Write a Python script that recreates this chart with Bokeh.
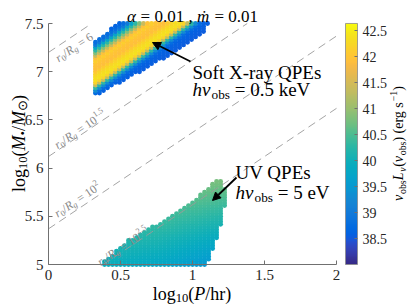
import math
import numpy as np
from bokeh.plotting import figure
from bokeh.models import (ColumnDataSource, LinearColorMapper, FixedTicker, LinearAxis,
                          CustomJSTickFormatter, Label, Arrow, NormalHead, Range1d)
from bokeh.transform import transform
from bokeh.embed import file_html
from bokeh.resources import INLINE

# ---------------- data ----------------
X_TICKS = [0, 0.5, 1, 1.5, 2]
Y_TICKS = [5, 5.5, 6, 6.5, 7, 7.5]
CB_TICKS = [38.5, 39, 39.5, 40, 40.5, 41, 41.5, 42, 42.5]
CB_LOW, CB_HIGH = 38.0, 42.635

# dashed r0/Rg lines: log M = log P + intercept
LINE_RATIO_TXT = ["6", "10^1.5", "10^2", "10^2.5"]
LINE_INTERCEPTS = [7.20, 6.12, 5.37, 4.62]

# grid step of the scanned parameter space
STEP_P = 0.0278
STEP_M = 2.5 / 90

# soft X-ray cloud (upper): edges (log M -> log P)
UP_P0 = 0.326
UP_LEFT_M = [6.76, 7.31, 7.51]
UP_LEFT_P = [0.326, 0.326, 0.49]
UP_RIGHT_M = [6.76, 6.875, 7.06, 7.22, 7.38, 7.51]
UP_RIGHT_P = [0.34, 0.48, 0.71, 0.89, 1.06, 1.12]
# luminance across the band, vs s = logM - logP
UP_S = [6.30, 6.44, 6.47, 6.50, 6.53, 6.57, 6.63, 6.70, 6.76, 6.80, 6.84, 6.88, 6.92, 6.95, 7.00]
UP_L = [38.5, 38.6, 39.0, 40.0, 41.2, 42.4, 42.3, 41.9, 42.0, 42.2, 41.4, 40.6, 39.8, 39.0, 38.6]
# luminance drop toward the lower edge (distance in log M)
UP_EDGE_D = [0.0, 0.03, 0.06]
UP_EDGE_L = [38.7, 40.3, 42.6]

# UV cloud (lower): edges
LOW_P0 = 0.361
LOW_LEFT_M = [4.99, 5.25, 5.44, 5.66, 5.88]
LOW_LEFT_P = [0.361, 0.55, 0.78, 1.01, 1.17]
LOW_RIGHT_M = [4.99, 5.15, 5.38, 5.64, 5.85, 5.88]
LOW_RIGHT_P = [1.10, 1.14, 1.19, 1.23, 1.22, 1.19]
LOW_COL_M = [5.0, 5.45, 5.9]
LOW_COL_P = [0.35, 0.8, 1.25]
LOW_COL_L = [[39.95, 39.75, 39.35],
             [40.50, 40.35, 40.10],
             [41.00, 40.95, 40.80]]

# parula colour map
PARULA64 = [
    (0.2081, 0.1663, 0.5292), (0.2116, 0.1898, 0.5777), (0.2123, 0.2138, 0.6270), (0.2081, 0.2386, 0.6771),
    (0.1959, 0.2645, 0.7279), (0.1707, 0.2919, 0.7792), (0.1253, 0.3242, 0.8303), (0.0591, 0.3598, 0.8683),
    (0.0117, 0.3875, 0.8820), (0.0060, 0.4086, 0.8828), (0.0165, 0.4266, 0.8786), (0.0329, 0.4430, 0.8720),
    (0.0498, 0.4586, 0.8641), (0.0629, 0.4737, 0.8554), (0.0723, 0.4887, 0.8467), (0.0779, 0.5040, 0.8384),
    (0.0793, 0.5200, 0.8312), (0.0749, 0.5375, 0.8263), (0.0641, 0.5570, 0.8240), (0.0488, 0.5772, 0.8228),
    (0.0343, 0.5966, 0.8199), (0.0265, 0.6137, 0.8135), (0.0239, 0.6287, 0.8038), (0.0231, 0.6418, 0.7913),
    (0.0228, 0.6535, 0.7768), (0.0267, 0.6642, 0.7607), (0.0384, 0.6743, 0.7436), (0.0590, 0.6838, 0.7254),
    (0.0843, 0.6928, 0.7062), (0.1133, 0.7015, 0.6859), (0.1453, 0.7098, 0.6646), (0.1801, 0.7177, 0.6424),
    (0.2178, 0.7250, 0.6193), (0.2586, 0.7317, 0.5954), (0.3022, 0.7376, 0.5712), (0.3482, 0.7424, 0.5473),
    (0.3953, 0.7459, 0.5244), (0.4420, 0.7481, 0.5033), (0.4871, 0.7491, 0.4840), (0.5300, 0.7491, 0.4661),
    (0.5709, 0.7485, 0.4494), (0.6099, 0.7473, 0.4337), (0.6473, 0.7456, 0.4188), (0.6834, 0.7435, 0.4044),
    (0.7184, 0.7411, 0.3905), (0.7525, 0.7384, 0.3768), (0.7858, 0.7356, 0.3633), (0.8185, 0.7327, 0.3498),
    (0.8507, 0.7299, 0.3360), (0.8824, 0.7274, 0.3217), (0.9139, 0.7258, 0.3063), (0.9450, 0.7261, 0.2886),
    (0.9739, 0.7314, 0.2666), (0.9938, 0.7455, 0.2403), (0.9990, 0.7653, 0.2164), (0.9955, 0.7861, 0.1967),
    (0.9880, 0.8066, 0.1794), (0.9789, 0.8271, 0.1633), (0.9697, 0.8481, 0.1475), (0.9626, 0.8705, 0.1309),
    (0.9589, 0.8949, 0.1132), (0.9598, 0.9218, 0.0948), (0.9661, 0.9514, 0.0755), (0.9763, 0.9831, 0.0538)]


def parula(n=256):
    arr = np.array(PARULA64)
    t0 = np.linspace(0, 1, len(arr))
    out = []
    for t in np.linspace(0, 1, n):
        r, g, b = (np.interp(t, t0, arr[:, i]) for i in range(3))
        out.append("#%02x%02x%02x" % (int(round(r * 255)), int(round(g * 255)), int(round(b * 255))))
    return out


# ---------------- build the scanned grid points ----------------
rows = 5.0 + STEP_M * np.arange(0, 91)

Ps, Ms, Ls = [], [], []
for m in rows:
    if m < UP_LEFT_M[0] or m > 7.5 + 1e-9:
        continue
    pmin = np.interp(m, UP_LEFT_M, UP_LEFT_P)
    pmax = np.interp(m, UP_RIGHT_M, UP_RIGHT_P)
    k = 0
    while True:
        pp = UP_P0 + k * STEP_P
        k += 1
        if pp > pmax + 1e-9:
            break
        if pp < pmin - 1e-9:
            continue
        lf = np.interp(m - pp, UP_S, UP_L)
        d = m - np.interp(pp, UP_RIGHT_P, UP_RIGHT_M)
        lg = np.interp(d, UP_EDGE_D, UP_EDGE_L)
        Ps.append(pp); Ms.append(m); Ls.append(min(lf, lg))

colL = np.array(LOW_COL_L)
for m in rows:
    if m > LOW_LEFT_M[-1]:
        continue
    pmin = np.interp(m, LOW_LEFT_M, LOW_LEFT_P)
    pmax = np.interp(m, LOW_RIGHT_M, LOW_RIGHT_P)
    k = 0
    while True:
        pp = LOW_P0 + k * STEP_P
        k += 1
        if pp > pmax + 1e-9:
            break
        if pp < pmin - 1e-9:
            continue
        rowvals = [np.interp(pp, LOW_COL_P, colL[i]) for i in range(len(LOW_COL_M))]
        Ps.append(pp); Ms.append(m); Ls.append(np.interp(m, LOW_COL_M, rowvals))

src = ColumnDataSource(dict(P=Ps, M=Ms, L=Ls))

# ---------------- figure: frame = whole canvas, axes at fixed locations ----------------
W, H = 407, 305
FX0, SX = 48.0, 144.0        # canvas px of logP=0, px per unit
FY75, SY = 23.0, 96.4        # canvas px of logM=7.5, px per unit
CB_X0, CB_X1 = 345.0, 357.0  # colour bar horizontal extent (px)
CB_Y425, CB_SY = 30.0, 52.0  # px of 42.5 on colour bar, px per unit

p = figure(width=W, height=H,
           x_range=Range1d(-FX0 / SX, (W - FX0) / SX),
           y_range=Range1d(7.5 - (H - FY75) / SY, 7.5 + FY75 / SY),
           output_backend="svg", toolbar_location=None, title=None,
           min_border_left=0, min_border_right=0, min_border_top=0, min_border_bottom=0)
p.grid.visible = False
p.outline_line_color = None
p.background_fill_color = "white"
p.border_fill_color = "white"
p.extra_y_ranges = {"cb": Range1d(42.5 - (H - CB_Y425) / CB_SY, 42.5 + CB_Y425 / CB_SY)}

FONT = "Liberation Serif"
AX_COL = "#707070"
fmt = CustomJSTickFormatter(code="return tick.toString();")


def style_axis(ax, size="15px"):
    ax.axis_line_color = AX_COL
    ax.major_tick_line_color = AX_COL
    ax.major_tick_in = 4
    ax.major_tick_out = 0
    ax.minor_tick_line_color = None
    ax.major_label_text_font = FONT
    ax.major_label_text_font_size = size
    ax.major_label_text_color = "#262626"
    ax.major_label_standoff = 5
    ax.formatter = fmt
    ax.axis_label = None


style_axis(p.xaxis[0])
style_axis(p.yaxis[0])
p.xaxis.ticker = FixedTicker(ticks=X_TICKS)
p.yaxis.ticker = FixedTicker(ticks=Y_TICKS)
p.xaxis.bounds = (0, 2)
p.yaxis.bounds = (5, 7.5)
p.xaxis.fixed_location = 5
p.yaxis.fixed_location = 0

cmap = LinearColorMapper(palette=parula(256), low=CB_LOW, high=CB_HIGH)

p.scatter(x="P", y="M", source=src, size=4.9, marker="circle",
          fill_color=transform("L", cmap), line_color=None)

for c in LINE_INTERCEPTS:
    x_lo = max(0.0, 5.0 - c)
    x_hi = min(2.0, 7.5 - c)
    p.line(x=[x_lo, x_hi], y=[x_lo + c, x_hi + c], line_color="#9a9a9a",
           line_width=0.9, line_dash="8 5")

# colour bar: gradient image + its own axis on the colour-bar range
bx0 = (CB_X0 - FX0) / SX
bx1 = (CB_X1 - FX0) / SX
grad = np.linspace(CB_LOW, CB_HIGH, 256).reshape(256, 1)
p.image(image=[grad], x=bx0, y=CB_LOW, dw=bx1 - bx0, dh=CB_HIGH - CB_LOW,
        color_mapper=cmap, y_range_name="cb")
p.quad(left=[bx0], right=[bx1], bottom=[CB_LOW], top=[CB_HIGH], fill_color=None,
       line_color="#8a8a8a", line_width=0.8, y_range_name="cb")
cb_axis = LinearAxis(y_range_name="cb", ticker=FixedTicker(ticks=CB_TICKS))
style_axis(cb_axis, size="14px")
cb_axis.axis_line_color = None
cb_axis.major_tick_in = 3
cb_axis.bounds = (CB_LOW, CB_HIGH)
cb_axis.fixed_location = bx1
p.add_layout(cb_axis, "right")

# ---------------- text helpers ----------------
EM = {" ": .25, ".": .25, ",": .25, "=": .564, "(": .333, ")": .333, "/": .278, "-": .333,
      "−": .564, "0": .5, "1": .5, "2": .5, "5": .5, "6": .5,
      "a": .444, "b": .5, "e": .444, "f": .333, "g": .5, "h": .5, "k": .5, "l": .278,
      "o": .5, "r": .389, "s": .389, "t": .278, "y": .5,
      "E": .611, "L": .611, "M": .833, "P": .611, "Q": .722, "R": .611, "S": .556,
      "U": .722, "V": .722, "X": .722, "ν": .5, "α": .55, "ṁ": .778, "•": .35, "⊙": .8}


def tw(s, size):
    return size * sum(EM.get(ch, 0.5) for ch in s)


def to_data(px, py):
    return (px - FX0) / SX, 7.5 - (py - FY75) / SY


def rich(pieces, x0, y0, angle_deg=0.0, size=14.0, color="black", align="left"):
    th = math.radians(angle_deg)
    ux, uy = math.cos(th), -math.sin(th)
    dx, dy = math.sin(th), math.cos(th)

    def fsz(kind):
        return size * 0.7 if kind in ("sub", "sup") else size
    total = sum(tw(t, fsz(k)) for t, k, _ in pieces)
    if align == "center":
        x0 -= ux * total / 2
        y0 -= uy * total / 2
    px, py = x0, y0
    for t, k, it in pieces:
        fs = fsz(k)
        lead = len(t) - len(t.lstrip(" "))
        core = t.strip(" ")
        w_lead = tw(" " * lead, fs)
        px += ux * w_lead
        py += uy * w_lead
        off = 0.25 * size if k == "sub" else (-0.38 * size if k == "sup" else 0.0)
        x, y = to_data(px + dx * off, py + dy * off)
        p.add_layout(Label(x=x, y=y, text=core, angle=th, text_font=FONT,
                           text_font_size="%.1fpx" % fs,
                           text_font_style="italic" if it else "normal",
                           text_color=color, text_align="left", text_baseline="alphabetic"))
        w = tw(t, fs) - w_lead
        px += ux * w
        py += uy * w


N, SUB, SUP = "n", "sub", "sup"

# title
rich([("α", N, True), (" = 0.01 , ", N, False), ("ṁ", N, True), (" = 0.01", N, False)],
     192, 16, size=17, align="center")

# axis labels
rich([("log", N, False), ("10", SUB, False), ("(", N, False), ("P", N, True), ("/hr)", N, False)],
     192, 293, size=18, align="center")
rich([("log", N, False), ("10", SUB, False), ("(", N, False), ("M", N, True), ("•", SUB, False),
      ("/", N, False), ("M", N, True), ("⊙", SUB, False), (")", N, False)],
     18, 143, angle_deg=90, size=18, align="center")

# colour bar label
rich([("ν", N, True), ("obs", SUB, False), ("L", N, True), ("ν", SUB, True), ("(", N, False),
      ("ν", N, True), ("obs", SUB, False), (")", N, False), (" (erg s", N, False),
      ("−1", SUP, False), (")", N, False)],
     398, 143, angle_deg=90, size=14, align="center")

# dashed-line labels
theta = math.degrees(math.atan(SY / SX))
LBL_XS = [50.4, 57.8, 59.5, 100.2]
LBL_D = [-10, 5, 8, 4]
for c, txt, xs, d in zip(LINE_INTERCEPTS, LINE_RATIO_TXT, LBL_XS, LBL_D):
    pP = (xs - FX0) / SX
    py_line = FY75 + (7.5 - (pP + c)) * SY
    th = math.radians(theta)
    sx0 = xs - d * math.sin(th)
    sy0 = py_line - d * math.cos(th)
    pieces = [("r", N, True), ("0", SUB, False), ("/", N, False), ("R", N, True),
              ("g", SUB, True), (" = ", N, False)]
    if "^" in txt:
        base, ex = txt.split("^")
        pieces += [(base, N, False), (ex, SUP, False)]
    else:
        pieces += [(txt, N, False)]
    rich(pieces, sx0, sy0, angle_deg=theta, size=12, color="#8a8a8a")

# annotations
rich([("Soft X-ray QPEs", N, False)], 192, 72, size=19)
rich([("h", N, True), ("ν", N, True), ("obs", SUB, False), (" = 0.5 keV", N, False)], 192, 89, size=19)
rich([("UV QPEs", N, False)], 235, 172, size=19)
rich([("h", N, True), ("ν", N, True), ("obs", SUB, False), (" = 5 eV", N, False)], 235, 192, size=19)

for (tx, ty), (hx, hy) in [((190, 61), (152, 42)), ((236, 177), (212, 200))]:
    xs_, ys_ = to_data(tx, ty)
    xe_, ye_ = to_data(hx, hy)
    p.add_layout(Arrow(end=NormalHead(size=8, fill_color="black", line_color="black", line_width=1),
                       x_start=xs_, y_start=ys_, x_end=xe_, y_end=ye_,
                       line_color="black", line_width=1.8))

open("out.html", "w").write(file_html(p, INLINE))
